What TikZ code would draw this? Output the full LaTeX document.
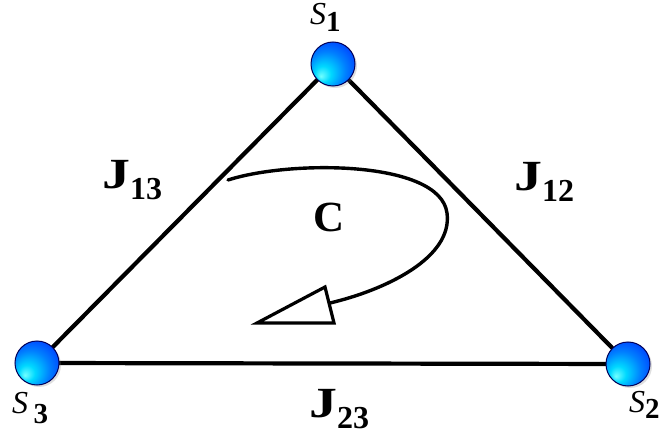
\documentclass[tikz,border=0pt]{standalone}
\usepackage{fontspec}
\setmainfont{Liberation Serif}
\usetikzlibrary{shadows}
\pgfdeclareradialshading{sball}{\pgfpoint{-14bp}{-14bp}}{%
  color(0bp)=(cyan!55!white);
  color(9bp)=(cyan!85!blue);
  color(22bp)=(blue!50!cyan);
  color(34bp)=(blue!75!cyan);
  color(50bp)=(blue!90!black)}
\tikzset{
  spin/.style={circle, minimum size=44pt, inner sep=0pt, draw=blue!35!black,
    line width=1pt, shading=sball,
    drop shadow={opacity=0.25, shadow xshift=2pt, shadow yshift=-2pt}},
  edge/.style={line width=4.2pt, black},
  loopline/.style={line width=3.4pt, black, line cap=round},
  jlab/.style={font=\fontsize{43}{45}\selectfont\bfseries, inner sep=0pt},
  slab/.style={font=\fontsize{32}{34}\selectfont, inner sep=0pt},
}
\newcommand{\jsub}[1]{\raisebox{-11pt}{\fontsize{32}{32}\selectfont #1}}
\newcommand{\ssub}[2]{\raisebox{#2}{\fontsize{29}{29}\selectfont\bfseries #1}}
\begin{document}
\begin{tikzpicture}[x=1pt,y=-1pt]
\useasboundingbox[fill=white] (0,0) rectangle (670,441);
% spins positions
\coordinate (p1) at (333,64);
\coordinate (p2) at (628,364);
\coordinate (p3) at (37,363);
% edges
\draw[edge] (p1) -- (p3);
\draw[edge] (p1) -- (p2);
\draw[edge] (p3) -- (p2);
% spins
\node[spin] (s1) at (p1) {};
\node[spin] (s2) at (p2) {};
\node[spin] (s3) at (p3) {};
% spin labels
\node[slab, anchor=base west] (l1) at (310,25) {\textit{S}\ssub{1}{-7pt}};
\node[slab, anchor=base west] (l3) at (12,413) {\textit{S}\,\ssub{3}{-10pt}};
\node[slab, anchor=base west] (l2) at (629,412) {\textit{S}\ssub{2}{-6pt}};
% couplings
\node[jlab, anchor=base west] (j13) at (102,189) {\scalebox{1.3}[1]{J}\jsub{13}};
\node[jlab, anchor=base west] (j12) at (514,191) {\scalebox{1.3}[1]{J}\jsub{12}};
\node[jlab, anchor=base west] (j23) at (309,417) {\scalebox{1.3}[1]{J}\jsub{23}};
% contour label
\node[jlab, anchor=base west] (cl) at (313,232) {C};
% contour
\coordinate (c0) at (228,180);
\coordinate (c1) at (447,213);
\coordinate (c2) at (330,303);
\draw[loopline] (c0) .. controls (290,160) and (440,160) .. (c1)
  .. controls (453,258) and (385,290) .. (c2);
% open arrowhead
\coordinate (tip) at (257,323);
\coordinate (b1) at (325,287);
\coordinate (b2) at (334,323);
\draw[line width=3.2pt, line join=miter, fill=white] (tip) -- (b1) -- (b2) -- cycle;
\end{tikzpicture}
\end{document}
